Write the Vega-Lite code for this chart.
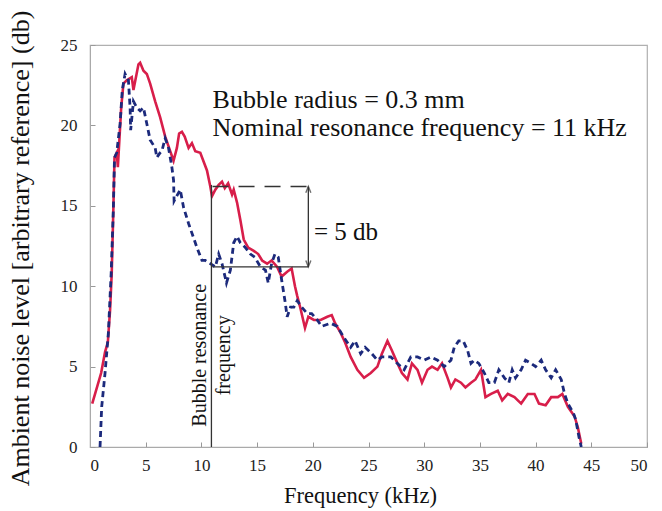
{
  "$schema": "https://vega.github.io/schema/vega-lite/v6.json",
  "width": 557,
  "height": 402,
  "autosize": {"type": "none"},
  "padding": {"left": 90, "top": 45, "right": 15, "bottom": 64},
  "background": "white",
  "config": {
    "view": {"stroke": "#b0b0b0", "strokeWidth": 1.2},
    "font": "Liberation Serif",
    "axis": {
      "labelFont": "Liberation Serif",
      "titleFont": "Liberation Serif",
      "labelFontSize": 17,
      "titleFontSize": 22.5,
      "titleFontWeight": "normal",
      "labelColor": "#222",
      "titleColor": "#111",
      "domainColor": "#aaa",
      "tickColor": "#999",
      "grid": false
    }
  },
  "datasets": {
    "red": [
      {"f":0.2,"v":2.7},{"f":1.0,"v":4.6},{"f":1.35,"v":5.9},{"f":1.6,"v":6.5},{"f":1.8,"v":8.5},{"f":1.95,"v":10.8},{"f":2.1,"v":14.9},{"f":2.2,"v":18.0},{"f":2.4,"v":18.3},{"f":2.5,"v":17.4},{"f":2.8,"v":21.1},{"f":3.0,"v":22.6},{"f":3.3,"v":22.8},{"f":3.75,"v":23.0},{"f":3.9,"v":22.2},{"f":4.35,"v":23.8},{"f":4.5,"v":23.9},{"f":4.8,"v":23.4},{"f":5.1,"v":23.2},{"f":5.4,"v":22.6},{"f":5.85,"v":21.5},{"f":6.3,"v":20.5},{"f":6.75,"v":19.3},{"f":7.2,"v":18.4},{"f":7.5,"v":17.8},{"f":7.8,"v":18.6},{"f":8.0,"v":19.5},{"f":8.25,"v":19.6},{"f":8.5,"v":19.3},{"f":8.85,"v":18.6},{"f":9.15,"v":18.9},{"f":9.45,"v":18.4},{"f":9.9,"v":18.3},{"f":10.5,"v":17.2},{"f":10.8,"v":16.2},{"f":10.95,"v":15.6},{"f":11.25,"v":16.0},{"f":11.55,"v":16.3},{"f":11.85,"v":16.5},{"f":12.1,"v":16.1},{"f":12.4,"v":16.4},{"f":12.75,"v":15.7},{"f":12.9,"v":16.0},{"f":13.2,"v":15.2},{"f":13.5,"v":14.1},{"f":13.8,"v":12.9},{"f":14.2,"v":12.4},{"f":14.7,"v":12.2},{"f":15.1,"v":12.0},{"f":15.45,"v":11.6},{"f":15.9,"v":11.4},{"f":16.3,"v":11.6},{"f":16.8,"v":11.2},{"f":17.2,"v":10.6},{"f":17.7,"v":10.9},{"f":18.1,"v":11.1},{"f":18.4,"v":10.0},{"f":18.6,"v":9.4},{"f":18.9,"v":8.6},{"f":19.3,"v":7.4},{"f":19.6,"v":8.1},{"f":20.1,"v":7.9},{"f":20.7,"v":7.9},{"f":21.3,"v":8.1},{"f":21.7,"v":8.2},{"f":22.0,"v":7.7},{"f":22.5,"v":7.1},{"f":22.9,"v":6.5},{"f":23.4,"v":5.6},{"f":24.0,"v":4.8},{"f":24.6,"v":4.3},{"f":25.2,"v":4.6},{"f":25.8,"v":5.0},{"f":26.2,"v":5.8},{"f":26.7,"v":6.6},{"f":27.1,"v":6.0},{"f":27.6,"v":5.2},{"f":28.0,"v":4.6},{"f":28.5,"v":4.2},{"f":28.9,"v":5.2},{"f":29.4,"v":4.8},{"f":29.8,"v":4.0},{"f":30.3,"v":4.8},{"f":30.7,"v":5.0},{"f":31.2,"v":4.8},{"f":31.6,"v":5.2},{"f":32.1,"v":4.3},{"f":32.4,"v":3.7},{"f":32.8,"v":4.2},{"f":33.3,"v":4.0},{"f":33.7,"v":3.7},{"f":34.2,"v":4.0},{"f":34.6,"v":4.2},{"f":35.1,"v":4.8},{"f":35.5,"v":3.1},{"f":36.0,"v":3.3},{"f":36.6,"v":3.5},{"f":37.0,"v":2.9},{"f":37.5,"v":3.3},{"f":38.1,"v":3.1},{"f":38.7,"v":2.7},{"f":39.3,"v":3.3},{"f":39.9,"v":3.3},{"f":40.3,"v":2.7},{"f":40.9,"v":2.6},{"f":41.4,"v":3.1},{"f":42.0,"v":3.1},{"f":42.4,"v":3.3},{"f":42.9,"v":2.5},{"f":43.5,"v":1.9},{"f":43.8,"v":1.2},{"f":44.1,"v":0.2}
    ],
    "blue": [
      {"f":0.9,"v":0},{"f":1.05,"v":2.5},{"f":1.35,"v":4.6},{"f":1.65,"v":7.1},{"f":1.9,"v":10.8},{"f":2.1,"v":14.9},{"f":2.2,"v":18.0},{"f":2.4,"v":18.3},{"f":2.7,"v":20.1},{"f":2.9,"v":22.2},{"f":3.15,"v":23.2},{"f":3.45,"v":22.8},{"f":3.6,"v":21.1},{"f":3.65,"v":19.7},{"f":3.9,"v":21.5},{"f":4.2,"v":21.1},{"f":4.5,"v":20.9},{"f":4.8,"v":21.1},{"f":5.1,"v":20.1},{"f":5.4,"v":19.1},{"f":5.85,"v":18.6},{"f":6.0,"v":18.0},{"f":6.3,"v":18.3},{"f":6.45,"v":18.4},{"f":6.75,"v":19.2},{"f":7.05,"v":18.6},{"f":7.35,"v":17.4},{"f":7.5,"v":16.6},{"f":7.55,"v":15.3},{"f":8.1,"v":16.0},{"f":8.4,"v":14.9},{"f":8.85,"v":13.9},{"f":9.3,"v":13.0},{"f":9.6,"v":12.4},{"f":10.05,"v":11.6},{"f":10.35,"v":11.6},{"f":10.8,"v":11.4},{"f":11.25,"v":11.2},{"f":11.55,"v":12.0},{"f":11.85,"v":11.4},{"f":12.25,"v":10.2},{"f":12.6,"v":11.0},{"f":12.9,"v":12.7},{"f":13.2,"v":13.1},{"f":13.5,"v":12.7},{"f":13.95,"v":12.4},{"f":14.4,"v":12.0},{"f":14.8,"v":11.8},{"f":15.3,"v":11.2},{"f":15.75,"v":11.0},{"f":16.0,"v":10.2},{"f":16.3,"v":11.4},{"f":16.6,"v":12.0},{"f":16.9,"v":11.8},{"f":17.2,"v":10.4},{"f":17.5,"v":9.1},{"f":17.7,"v":8.1},{"f":18.0,"v":8.7},{"f":18.3,"v":8.7},{"f":18.6,"v":9.1},{"f":19.0,"v":8.7},{"f":19.5,"v":8.3},{"f":19.9,"v":8.3},{"f":20.4,"v":7.9},{"f":20.8,"v":7.5},{"f":21.6,"v":7.7},{"f":22.2,"v":7.5},{"f":22.8,"v":6.8},{"f":23.4,"v":6.2},{"f":23.8,"v":6.6},{"f":24.3,"v":5.8},{"f":24.7,"v":6.2},{"f":25.3,"v":5.8},{"f":25.8,"v":5.4},{"f":26.2,"v":5.6},{"f":27.0,"v":5.6},{"f":27.6,"v":5.2},{"f":28.2,"v":4.8},{"f":28.8,"v":5.6},{"f":29.4,"v":5.6},{"f":30.0,"v":5.4},{"f":30.6,"v":5.6},{"f":31.2,"v":5.4},{"f":31.8,"v":5.0},{"f":32.4,"v":5.4},{"f":32.7,"v":6.2},{"f":33.1,"v":6.6},{"f":33.5,"v":6.6},{"f":33.9,"v":6.0},{"f":34.2,"v":5.2},{"f":34.5,"v":5.4},{"f":34.9,"v":5.2},{"f":35.4,"v":4.6},{"f":35.8,"v":4.0},{"f":36.3,"v":4.0},{"f":36.7,"v":4.8},{"f":37.2,"v":4.3},{"f":37.6,"v":4.0},{"f":37.9,"v":4.8},{"f":38.2,"v":4.3},{"f":38.7,"v":4.8},{"f":39.1,"v":5.4},{"f":39.6,"v":5.2},{"f":40.0,"v":5.0},{"f":40.5,"v":5.4},{"f":40.9,"v":4.8},{"f":41.4,"v":4.3},{"f":41.8,"v":4.8},{"f":42.3,"v":4.2},{"f":42.6,"v":3.3},{"f":42.9,"v":2.7},{"f":43.4,"v":2.1},{"f":43.6,"v":1.7},{"f":43.9,"v":0.6},{"f":44.1,"v":0}
    ],
    "rules": [
      {"x":10.9,"y":0,"x2":10.9,"y2":16.3},
      {"x":11.0,"y":11.2,"x2":19.6,"y2":11.2},
      {"x":19.6,"y":11.2,"x2":19.6,"y2":16.2}
    ],
    "dashrule": [
      {"x":11.0,"y":16.2,"x2":19.6,"y2":16.2}
    ],
    "heads": [
      {"x":19.6,"y":16.2,"dir":"up"},
      {"x":19.6,"y":11.2,"dir":"down"}
    ],
    "notes": [
      {"x":11.0,"y":21.55,"text":"Bubble radius = 0.3 mm"},
      {"x":11.0,"y":19.85,"text":"Nominal resonance frequency = 11 kHz"}
    ],
    "note5": [
      {"x":20.1,"y":13.4,"text":"= 5 db"}
    ],
    "vnotes": [
      {"x":9.9,"y":5.7,"text":"Bubble resonance"},
      {"x":12.0,"y":5.7,"text":"frequency"}
    ]
  },
  "layer": [
    {
      "data": {"name": "red"},
      "mark": {"type": "line", "color": "#d81e4a", "strokeWidth": 2.6, "clip": true},
      "encoding": {
        "x": {"field": "f", "type": "quantitative", "scale": {"domain": [0, 50], "nice": false},
          "axis": {"title": "Frequency (kHz)", "values": [0,5,10,15,20,25,30,35,40,45,50], "tickSize": -5, "labelPadding": 15, "labelAngle": 0, "titleX": 270, "titleY": 48, "titleAlign": "center", "titleBaseline": "middle"}},
        "y": {"field": "v", "type": "quantitative", "scale": {"domain": [0, 25], "nice": false},
          "axis": {"title": "Ambient noise level [arbitrary reference] (db)", "titleFontSize": 26, "values": [0,5,10,15,20,25], "tickSize": -5, "labelPadding": 18, "titleX": -70, "titleY": 203, "titleAngle": -90, "titleAlign": "center", "titleBaseline": "middle"}}
      }
    },
    {
      "data": {"name": "blue"},
      "mark": {"type": "line", "color": "#1c2a7c", "strokeWidth": 2.8, "strokeDash": [6, 4], "clip": true},
      "encoding": {
        "x": {"field": "f", "type": "quantitative"},
        "y": {"field": "v", "type": "quantitative"}
      }
    },
    {
      "data": {"name": "rules"},
      "mark": {"type": "rule", "color": "#333", "strokeWidth": 1.3},
      "encoding": {
        "x": {"field": "x", "type": "quantitative"},
        "y": {"field": "y", "type": "quantitative"},
        "x2": {"field": "x2"},
        "y2": {"field": "y2"}
      }
    },
    {
      "data": {"name": "dashrule"},
      "mark": {"type": "rule", "color": "#333", "strokeWidth": 1.3, "strokeDash": [16, 10]},
      "encoding": {
        "x": {"field": "x", "type": "quantitative"},
        "y": {"field": "y", "type": "quantitative"},
        "x2": {"field": "x2"},
        "y2": {"field": "y2"}
      }
    },
    {
      "data": {"name": "heads"},
      "transform": [{"filter": "datum.dir == 'up'"}],
      "mark": {"type": "point", "shape": "M-0.8,2L0,0L0.8,2", "size": 40, "filled": false, "stroke": "#333", "strokeWidth": 1.4},
      "encoding": {
        "x": {"field": "x", "type": "quantitative"},
        "y": {"field": "y", "type": "quantitative"}
      }
    },
    {
      "data": {"name": "heads"},
      "transform": [{"filter": "datum.dir == 'down'"}],
      "mark": {"type": "point", "shape": "M-0.8,-2L0,0L0.8,-2", "size": 40, "filled": false, "stroke": "#333", "strokeWidth": 1.4},
      "encoding": {
        "x": {"field": "x", "type": "quantitative"},
        "y": {"field": "y", "type": "quantitative"}
      }
    },
    {
      "data": {"name": "notes"},
      "mark": {"type": "text", "align": "left", "baseline": "middle", "font": "Liberation Serif", "fontSize": 26, "color": "#111"},
      "encoding": {
        "x": {"field": "x", "type": "quantitative"},
        "y": {"field": "y", "type": "quantitative"},
        "text": {"field": "text"}
      }
    },
    {
      "data": {"name": "note5"},
      "mark": {"type": "text", "align": "left", "baseline": "middle", "font": "Liberation Serif", "fontSize": 25, "color": "#111"},
      "encoding": {
        "x": {"field": "x", "type": "quantitative"},
        "y": {"field": "y", "type": "quantitative"},
        "text": {"field": "text"}
      }
    },
    {
      "data": {"name": "vnotes"},
      "mark": {"type": "text", "align": "center", "baseline": "middle", "angle": 270, "font": "Liberation Serif", "fontSize": 20, "color": "#111"},
      "encoding": {
        "x": {"field": "x", "type": "quantitative"},
        "y": {"field": "y", "type": "quantitative"},
        "text": {"field": "text"}
      }
    }
  ]
}
